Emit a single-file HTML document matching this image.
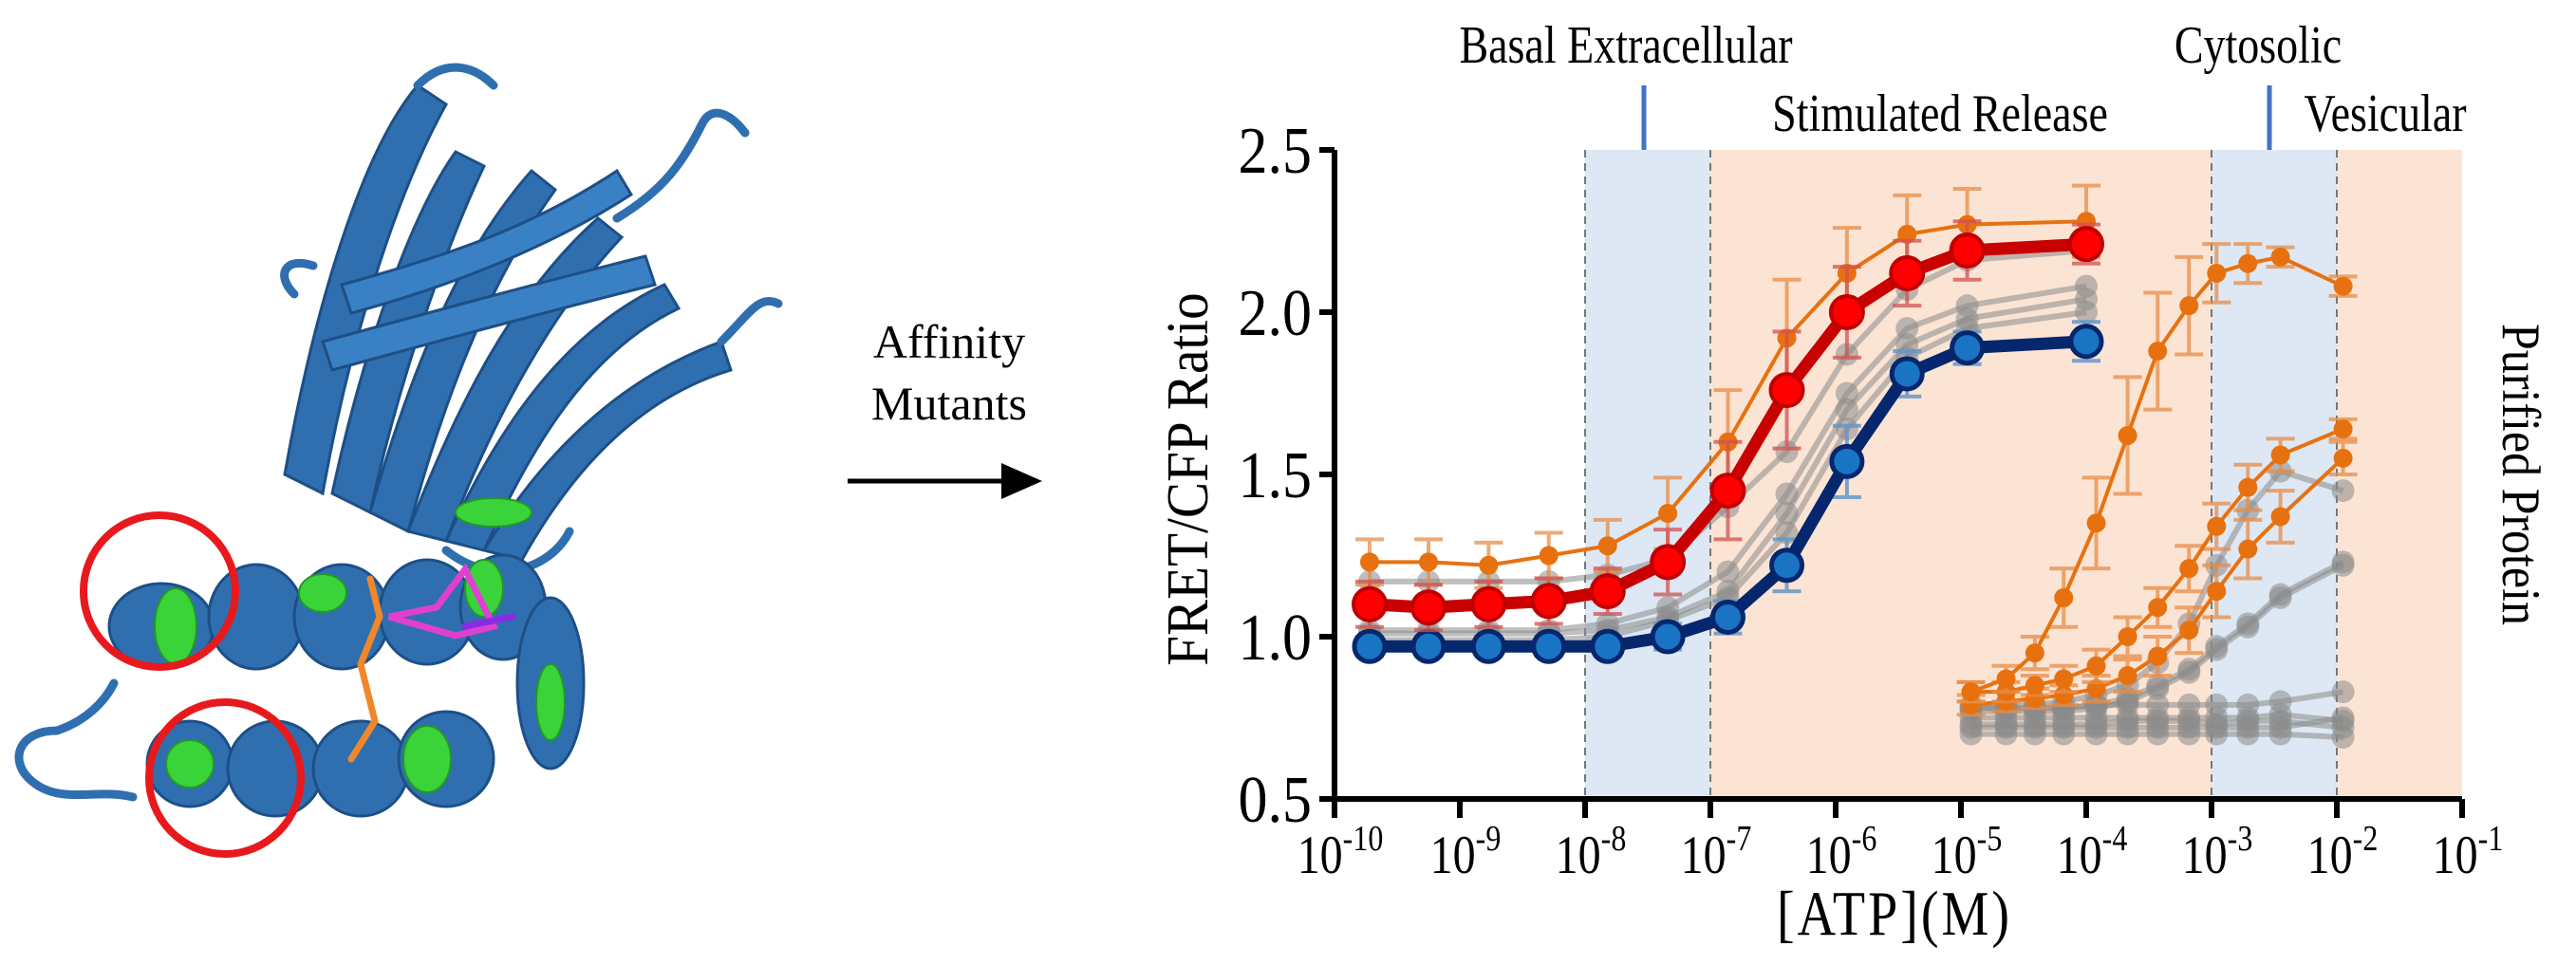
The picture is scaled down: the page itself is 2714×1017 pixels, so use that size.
<!DOCTYPE html>
<html><head><meta charset="utf-8"><style>
html,body{margin:0;padding:0;background:#fff;}
svg{display:block;font-family:"Liberation Serif",serif;}
</style></head><body>
<svg id="fig" width="2714" height="1017" viewBox="0 0 2714 1017" xmlns="http://www.w3.org/2000/svg">
<g>
  <g fill="#2f6fb0" stroke="#1d4f86" stroke-width="3">
    <path d="M300,500 C330,330 380,160 440,90 L470,110 C420,200 370,350 340,520 Z"/>
    <path d="M350,520 C380,380 430,230 480,160 L510,175 C470,260 420,400 390,540 Z"/>
    <path d="M390,540 C430,400 480,270 560,180 L585,200 C520,290 470,410 430,560 Z"/>
    <path d="M430,560 C480,430 540,310 630,230 L655,250 C580,330 520,440 470,570 Z"/>
    <path d="M470,570 C520,460 590,350 700,300 L715,325 C620,370 560,470 510,580 Z"/>
    <path d="M510,580 C570,480 650,400 760,360 L770,390 C670,420 600,500 550,590 Z"/>
    <path d="M340,360 C450,330 560,300 680,270 L690,300 C570,330 460,360 350,390 Z" fill="#3a80c4"/>
    <path d="M360,300 C470,270 560,240 650,180 L665,205 C580,260 480,300 370,330 Z" fill="#3a80c4"/>
  </g>
  <g fill="none" stroke="#2f6fb0" stroke-width="9" stroke-linecap="round">
    <path d="M440,90 C470,60 500,70 520,90"/>
    <path d="M650,230 C700,200 720,170 740,130 C750,110 770,120 785,140"/>
    <path d="M310,310 C290,290 300,270 330,280"/>
    <path d="M760,360 C790,330 800,310 820,320"/>
    <path d="M30,820 C10,800 20,770 60,770 C90,760 110,740 120,720"/>
    <path d="M30,820 C60,850 100,830 140,840"/>
    <path d="M600,560 C580,600 520,620 470,580"/>
  </g>
  <g fill="#2f6fb0" stroke="#1d4f86" stroke-width="3">
    <ellipse cx="170" cy="660" rx="55" ry="45"/>
    <ellipse cx="270" cy="650" rx="50" ry="55"/>
    <ellipse cx="360" cy="650" rx="50" ry="55"/>
    <ellipse cx="450" cy="645" rx="50" ry="55"/>
    <ellipse cx="530" cy="640" rx="45" ry="55"/>
    <ellipse cx="580" cy="720" rx="35" ry="90"/>
    <ellipse cx="200" cy="805" rx="45" ry="45"/>
    <ellipse cx="290" cy="810" rx="50" ry="50"/>
    <ellipse cx="380" cy="810" rx="50" ry="50"/>
    <ellipse cx="470" cy="800" rx="50" ry="50"/>
  </g>
  <g fill="#3ad33a" stroke="#239a23" stroke-width="2">
    <ellipse cx="185" cy="660" rx="22" ry="40"/>
    <ellipse cx="340" cy="625" rx="25" ry="20"/>
    <ellipse cx="510" cy="620" rx="20" ry="30"/>
    <ellipse cx="200" cy="805" rx="25" ry="25"/>
    <ellipse cx="450" cy="800" rx="25" ry="35"/>
    <ellipse cx="580" cy="740" rx="15" ry="40"/>
    <ellipse cx="520" cy="540" rx="40" ry="15"/>
  </g>
  <g fill="none" stroke-width="7" stroke-linecap="round">
    <path d="M380,700 L400,650 L390,610" stroke="#f0872a"/>
    <path d="M380,700 L395,760 L370,800" stroke="#f0872a"/>
    <path d="M410,650 L460,640 L490,600 L520,660 L480,670 Z" stroke="#e040d0"/>
    <path d="M490,660 L540,650" stroke="#8a2be2"/>
  </g>
  <circle cx="168" cy="623" r="80" fill="none" stroke="#e8191c" stroke-width="8"/>
  <circle cx="237" cy="820" r="80" fill="none" stroke="#e8191c" stroke-width="8"/>
</g>
<g>
  <text x="1000" y="377" font-size="50" text-anchor="middle">Affinity</text>
  <text x="1000" y="442" font-size="50" text-anchor="middle">Mutants</text>
  <line x1="893" y1="507" x2="1060" y2="507" stroke="#000" stroke-width="5"/>
  <polygon points="1055,488 1098,507 1055,526" fill="#000"/>
</g>
<g id="chart"></g>
</svg>
<script>
const decadeTicks=[-10,-9,-8,-7,-6,-5,-4,-3,-2,-1];
const yTicks=[0.5,1.0,1.5,2.0,2.5];
const regionEdges=[-8,-7,-3,-2,-1];
const regionColors=['#dde8f4','#fbe4d4','#dde8f4','#fbe4d4'];
const cellX=[-9.72,-9.25,-8.77,-8.29,-7.82,-7.34,-6.86,-6.39,-5.91,-5.43,-4.95,-4.0];
const orangeCell=[1.23,1.23,1.22,1.25,1.28,1.38,1.60,1.92,2.12,2.24,2.27,2.28];
const orangeCellErr=[0.07,0.07,0.07,0.07,0.08,0.11,0.16,0.18,0.14,0.12,0.11,0.11];
const redCell=[1.10,1.09,1.10,1.11,1.14,1.23,1.45,1.76,2.00,2.12,2.19,2.21];
const redCellErr=[0.07,0.07,0.07,0.07,0.07,0.10,0.15,0.18,0.14,0.10,0.09,0.06];
const blueCell=[0.97,0.97,0.97,0.97,0.97,1.00,1.06,1.22,1.54,1.81,1.89,1.91];
const blueCellErr=[0.03,0.03,0.03,0.03,0.03,0.04,0.05,0.08,0.11,0.07,0.05,0.06];
const grayCell1=[1.17,1.17,1.17,1.17,1.19,1.24,1.40,1.57,1.87,2.07,2.16,2.19];
const grayCell2=[1.02,1.02,1.02,1.02,1.04,1.09,1.20,1.44,1.75,1.95,2.02,2.08];
const grayCell3=[1.01,1.01,1.01,1.01,1.02,1.06,1.14,1.38,1.70,1.90,1.98,2.04];
const grayCell4=[0.99,0.99,0.99,0.99,1.00,1.05,1.12,1.32,1.64,1.86,1.95,2.00];
const purX=[-4.92,-4.64,-4.41,-4.18,-3.92,-3.67,-3.43,-3.18,-2.96,-2.71,-2.45,-1.95];
const orangePur1=[0.83,0.87,0.95,1.12,1.35,1.62,1.88,2.02,2.12,2.15,2.17,2.08];
const orangePur1Err=[0.03,0.04,0.05,0.09,0.14,0.18,0.18,0.15,0.09,0.06,0.03,0.03];
const orangePur2=[0.83,0.83,0.85,0.87,0.91,1.00,1.09,1.21,1.34,1.46,1.56,1.64];
const orangePur2Err=[0.03,0.03,0.03,0.04,0.05,0.06,0.06,0.07,0.07,0.07,0.05,0.03];
const orangePur3=[0.79,0.80,0.81,0.82,0.84,0.88,0.94,1.02,1.14,1.27,1.37,1.55];
const orangePur3Err=[0.03,0.03,0.03,0.03,0.04,0.05,0.06,0.07,0.08,0.09,0.08,0.05];
const grayPur1=[0.79,0.79,0.79,0.80,0.82,0.85,0.92,1.04,1.22,1.39,1.51,1.45];
const grayPur2=[0.78,0.78,0.78,0.78,0.79,0.81,0.85,0.90,0.97,1.04,1.13,1.23];
const grayPur3=[0.77,0.77,0.77,0.77,0.78,0.80,0.84,0.89,0.96,1.03,1.12,1.22];
const grayPur4=[0.78,0.78,0.78,0.78,0.79,0.79,0.79,0.79,0.79,0.79,0.80,0.83];
const grayPur5=[0.75,0.75,0.75,0.75,0.75,0.75,0.75,0.75,0.75,0.75,0.76,0.74];
const grayPur6=[0.72,0.72,0.72,0.72,0.72,0.72,0.72,0.72,0.72,0.72,0.72,0.75];
const grayPur7=[0.70,0.70,0.70,0.70,0.70,0.70,0.70,0.70,0.70,0.70,0.70,0.69];
const grayPur8=[0.73,0.73,0.73,0.73,0.73,0.74,0.74,0.74,0.73,0.74,0.74,0.72];

const NS='http://www.w3.org/2000/svg';
const chart=document.getElementById('chart');
const X0=1406,DEC=132,Y05=842,PERUNIT=342;
function xs(l){return X0+(l+10)*DEC;}
function ys(v){return Y05-(v-0.5)*PERUNIT;}
function mk(tag,attrs,parent){const e=document.createElementNS(NS,tag);for(const k in attrs)e.setAttribute(k,attrs[k]);(parent||chart).appendChild(e);return e;}

for(let i=0;i<regionColors.length;i++){
  const r=mk('rect',{x:xs(regionEdges[i]),y:ys(2.5),width:xs(regionEdges[i+1])-xs(regionEdges[i]),height:ys(0.5)-ys(2.5),fill:regionColors[i]});
  
  
}
for(let i=0;i<4;i++){
  const l=mk('line',{x1:xs(regionEdges[i]),x2:xs(regionEdges[i]),y1:ys(2.5),y2:ys(0.5),stroke:'#777','stroke-width':2,'stroke-dasharray':'8,6'});
  
  
}
const mA=mk('line',{x1:1732,x2:1732,y1:90,y2:158,stroke:'#4472c4','stroke-width':5});


const mB=mk('line',{x1:2391,x2:2391,y1:90,y2:158,stroke:'#4472c4','stroke-width':5});


const labels=[['Basal Extracellular',1713,66,'basal-extracellular-label'],['Stimulated Release',2044,138,'stimulated-release-label'],['Cytosolic',2379,66,'cytosolic-label'],['Vesicular',2513,138,'vesicular-label']];
labels.forEach(a=>{const t=mk('text',{x:0,y:0,'font-size':46,'text-anchor':'middle',transform:`translate(${a[1]},${a[2]}) scale(1,1.22)`});t.textContent=a[0];
  
  });

function series(xArr,yArr,opt,name){
  const g=mk('g',{});
  
  
  if(opt.err){
    for(let i=0;i<xArr.length;i++){
      const x=xs(xArr[i]),e=opt.err[i];
      mk('path',{d:`M${x},${ys(yArr[i]+e)}V${ys(yArr[i]-e)}M${x-15},${ys(yArr[i]+e)}H${x+15}M${x-15},${ys(yArr[i]-e)}H${x+15}`,stroke:opt.ec,'stroke-width':4,fill:'none'},g);
    }
  }
  const pts=xArr.map((x,i)=>xs(x)+','+ys(yArr[i])).join(' ');
  mk('polyline',{points:pts,fill:'none',stroke:opt.lc,'stroke-width':opt.lw,'stroke-opacity':opt.op||1,'stroke-linejoin':'round'},g);
  for(let i=0;i<xArr.length;i++){
    const c=mk('circle',{cx:xs(xArr[i]),cy:ys(yArr[i]),r:opt.r,fill:opt.fc,'fill-opacity':opt.op||1,stroke:opt.sc||'none','stroke-width':opt.sw||0},g);
    
    
  }
}
const grayOpt={lc:'#8a8a8a',lw:6,r:12,fc:'#8a8a8a',op:0.55};
[grayPur5,grayPur6,grayPur7,grayPur8,grayPur4,grayPur3,grayPur2,grayPur1].forEach((s,i)=>series(purX,s,grayOpt,'purified-gray-'+(i+1)));
[grayCell1,grayCell2,grayCell3,grayCell4].forEach((s,i)=>series(cellX,s,grayOpt,'cell-gray-'+(i+1)));
const oOpt=(err)=>({lc:'#e8710f',lw:4,r:10,fc:'#e8710f',err:err,ec:'rgba(232,140,70,0.75)'});
series(purX,orangePur3,oOpt(orangePur3Err),'purified-orange-3');
series(purX,orangePur2,oOpt(orangePur2Err),'purified-orange-2');
series(purX,orangePur1,oOpt(orangePur1Err),'purified-orange-1');
series(cellX,orangeCell,oOpt(orangeCellErr),'cell-orange');
series(cellX,blueCell,{lc:'#06276e',lw:13,r:16,fc:'#1a74c4',sc:'#06276e',sw:5,err:blueCellErr,ec:'rgba(100,150,200,0.85)'},'cell-blue');
series(cellX,redCell,{lc:'#c80000',lw:13,r:17,fc:'#ff0000',sc:'#c00000',sw:4,err:redCellErr,ec:'rgba(210,80,80,0.75)'},'cell-red');

const ax=mk('path',{d:`M${X0},${ys(2.5)}V${Y05}H${xs(-1)}`,stroke:'#000','stroke-width':6,fill:'none'});


yTicks.forEach(v=>{
  const tk=mk('line',{x1:X0-16,x2:X0,y1:ys(v),y2:ys(v),stroke:'#000','stroke-width':6});
  
  
  const t=mk('text',{x:0,y:0,'font-size':62,'text-anchor':'end',transform:`translate(${X0-24},${ys(v)+24}) scale(1,1.12)`});t.textContent=v.toFixed(1);
  
  
});
decadeTicks.forEach(d=>{
  const tk=mk('line',{x1:xs(d),x2:xs(d),y1:Y05,y2:Y05+20,stroke:'#000','stroke-width':6});
  
  
  const t=mk('text',{x:0,y:0,'font-size':48,'text-anchor':'middle',transform:`translate(${xs(d)+6},920) scale(1,1.2)`});
  
  
  const a=document.createElementNS(NS,'tspan');a.textContent='10';t.appendChild(a);
  const b=document.createElementNS(NS,'tspan');b.setAttribute('dy','-20');b.setAttribute('font-size','32');b.textContent=String(d);t.appendChild(b);
});
const yt=mk('text',{x:0,y:0,'font-size':52,'text-anchor':'middle',transform:'translate(1272,505) rotate(-90) scale(1.1,1.2)'});yt.textContent='FRET/CFP Ratio';


const xt=mk('text',{x:0,y:0,'font-size':56,'text-anchor':'middle','letter-spacing':'3',transform:'translate(1996,985) scale(1,1.2)'});xt.textContent='[ATP](M)';


const pp=mk('text',{x:0,y:0,'font-size':50,'text-anchor':'middle',transform:'translate(2637,500) rotate(90) scale(1,1.15)'});pp.textContent='Purified Protein';


</script>
</body></html>
